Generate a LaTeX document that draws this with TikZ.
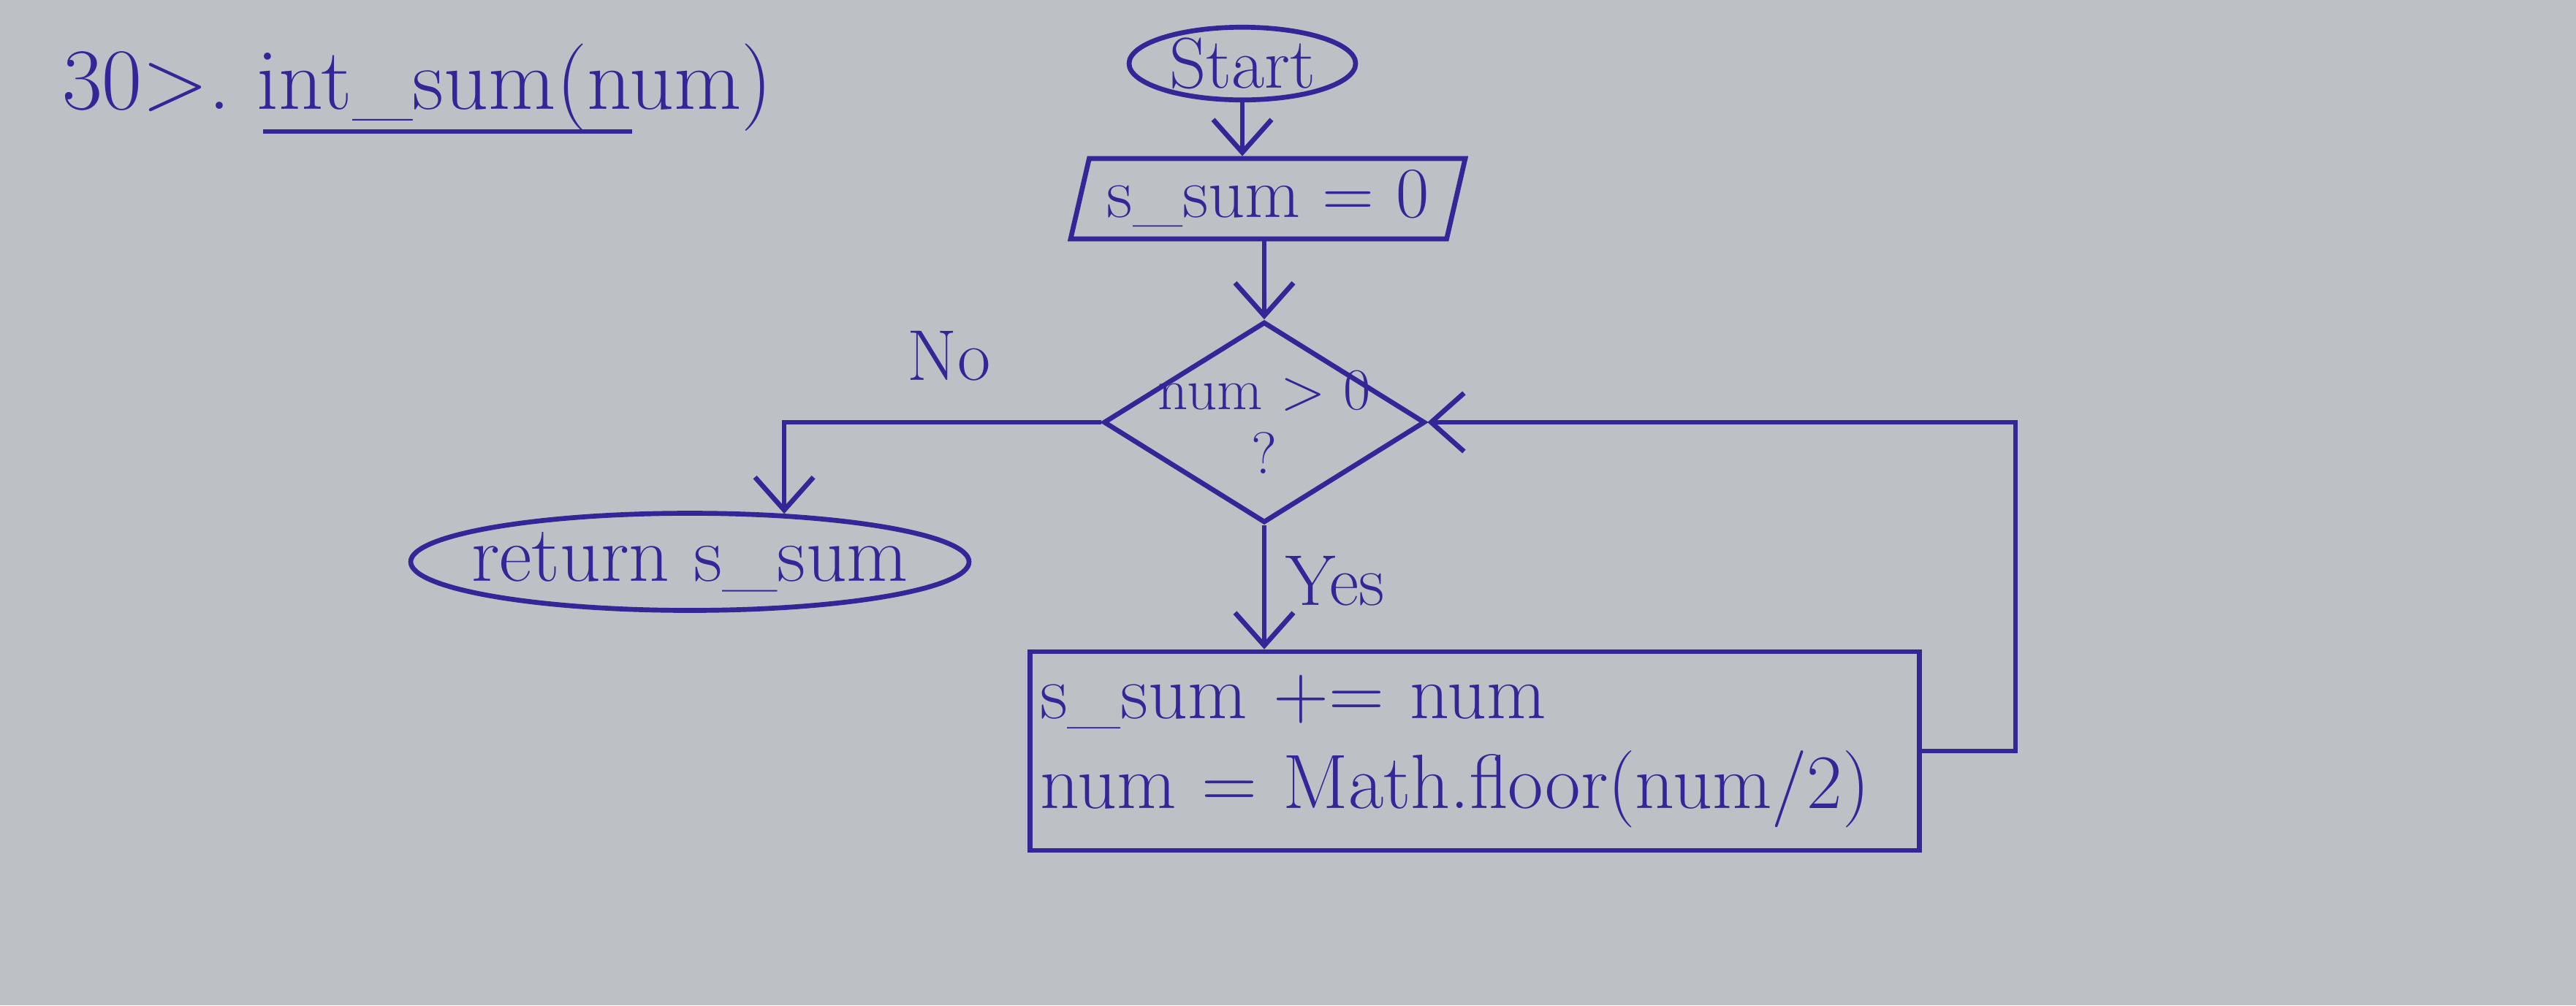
\documentclass[tikz,border=0pt]{standalone}
\usepackage{fontspec}
\usepackage{tikz}
\usetikzlibrary{arrows.meta,shapes.geometric,positioning}

\definecolor{pen}{RGB}{52,38,150}
\definecolor{paper}{RGB}{189,192,197}

\begin{document}
\begin{tikzpicture}[line width=1.9pt, color=pen,
	every node/.style={font=\fontsize{28}{32}\selectfont, text=pen},
	terminal/.style={ellipse,draw,inner sep=0pt},
	io/.style={trapezium,trapezium left angle=72,trapezium right angle=108,trapezium stretches body,draw,inner sep=0pt},
	decision/.style={diamond,draw,inner sep=0pt},
	process/.style={rectangle,draw,inner sep=0pt},
	arr/.style={-{Straight Barb[length=4.5mm,width=8mm]}}]
	\fill[paper] (0,0) rectangle (35.25,-13.76);
	\useasboundingbox (0,0) rectangle (35.25,-13.76);

	\node[anchor=west, font=\fontsize{34}{38}\selectfont] (title) at (0.7,-1.2) {30>.\ int\_sum(num)};
	% underline under the name
	\draw ([xshift=2.9cm,yshift=-0.6cm]title.west) -- ++(5.05,0);

	\node[terminal, minimum width=3.1cm, minimum height=0.9cm] (start) at (17.0,-0.87) {Start};
	\node[io, minimum width=5.4cm, minimum height=1.1cm] (input) at (17.35,-2.72) {s\_sum = 0};
	\node[decision, minimum width=4.4cm, minimum height=2.75cm,
		label={[align=center, font=\fontsize{23}{25}\selectfont]center:num > 0\\?}] (dec) at (17.3,-5.78) {};
	\node[terminal, inner xsep=-0.3cm, inner ysep=-0.05cm, minimum width=7.64cm, minimum height=1.33cm,
		font=\fontsize{31}{34}\selectfont] (ret) at (9.44,-7.69) {return s\_sum};
	\node[process, minimum width=12.17cm, minimum height=2.72cm, text width=11.9cm, align=left,
		font=\fontsize{30}{35}\selectfont] (body) at (20.18,-10.28) {s\_sum += num\\num = Math.floor(num/2)};

	\draw[arr] (start.south) -- (start.south |- input.north);
	\draw[arr] (input.south -| dec.north) -- (dec.north);
	\draw[arr] (dec.west) -| node[pos=0.24, above=12pt] {No} (ret.27);
	\draw[arr] (dec.south) -- node[right=4pt, pos=0.45] {Yes} (dec.south |- body.north);
	\draw[arr] (body.east) -- ++(1.28,0) |- (dec.east);
\end{tikzpicture}
\end{document}
